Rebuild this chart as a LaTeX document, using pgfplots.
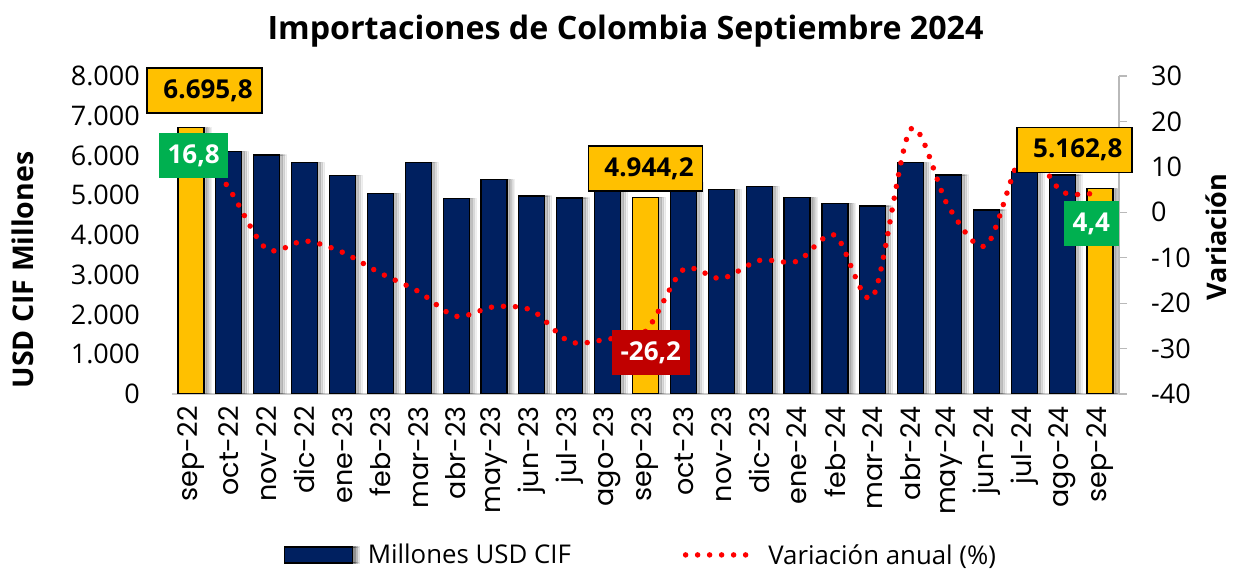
\documentclass[border=0pt]{standalone}
\usepackage{pgfplots}
\pgfplotsset{compat=1.18}
\usepackage{fontspec}
\setmainfont{Open Sans}
\newfontfamily\poppins{Poppins}
\usetikzlibrary{shadows}
\definecolor{navy}{HTML}{002060}
\definecolor{gold}{HTML}{FFC000}
\definecolor{vgreen}{HTML}{00B050}
\definecolor{vred}{HTML}{C00000}
\newcommand\fs[1]{\fontsize{#1}{#1}\selectfont}
\tikzset{
  goldbox/.style={fill=gold, draw=black, line width=1.5pt, font=\bfseries\fs{26}, minimum height=45pt, inner sep=0pt},
  colbox/.style={text=white, font=\bfseries\fs{26}, minimum height=45pt, inner sep=0pt},
  reddots/.style={color=red, line width=5.5pt, line cap=round, dash pattern=on 0pt off 12pt},
  barshadow/.style={
    general shadow={shadow xshift=7pt, shadow yshift=0pt, opacity=0.06, fill=black},
    general shadow={shadow xshift=5pt, shadow yshift=0pt, opacity=0.09, fill=black},
    general shadow={shadow xshift=3pt, shadow yshift=0pt, opacity=0.12, fill=black}},
}
\begin{document}
\begin{tikzpicture}[x=1pt,y=1pt]
\path[use as bounding box] (0,0) rectangle (1234,572);
\node[font=\bfseries\fs{32.2}] at (625.5,541) {Importaciones de Colombia Septiembre 2024};

\begin{axis}[
  at={(172pt,178pt)}, anchor=south west,
  scale only axis, width=947pt, height=318pt,
  xmin=-0.5, xmax=24.5, ymin=0, ymax=8000,
  axis x line*=bottom, axis y line*=left,
  x axis line style={draw=gray!40, line width=1.2pt},
  y axis line style={draw=none},
  xtick={0,...,24},
  xticklabels={sep-22,oct-22,nov-22,dic-22,ene-23,feb-23,mar-23,abr-23,may-23,jun-23,jul-23,ago-23,sep-23,oct-23,nov-23,dic-23,ene-24,feb-24,mar-24,abr-24,may-24,jun-24,jul-24,ago-24,sep-24},
  xticklabel style={yshift=-12pt, rotate=90, anchor=east, font=\poppins\fs{27}, inner sep=0pt},
  major tick length=0pt,
  ytick={0,1000,...,8000},
  yticklabels={0,1.000,2.000,3.000,4.000,5.000,6.000,7.000,8.000},
  yticklabel style={font=\fs{27}, anchor=east, inner sep=0pt, xshift=-32pt},
  ylabel={USD CIF Millones},
  ylabel style={font=\bfseries\fs{28.5}, at={(rel axis cs:-0.158,0.39)}, anchor=center},
  legend style={at={(rel axis cs:0.494,-0.506)}, anchor=center, draw=none, fill=none,
    legend columns=2, font=\fs{25.8}, nodes={inner sep=0pt},
    /tikz/every odd column/.append style={column sep=15pt},
    /tikz/every even column/.append style={column sep=112pt}},
]
\addplot[ybar, bar width=26pt, bar shift=0pt, fill=navy, draw=black, line width=1.2pt, barshadow,
  legend image code/.code={\draw[fill=navy, draw=black, line width=1.2pt, barshadow] (0pt,-8pt) rectangle (68pt,8pt);}]
coordinates {
(1,6096) (2,6013) (3,5820) (4,5501) (5,5040) (6,5829) (7,4914) (8,5392) (9,4981) (10,4931) (11,5270)
(13,5330) (14,5140) (15,5223) (16,4939) (17,4797) (18,4730) (19,5815) (20,5509) (21,4629) (22,5600) (23,5509)
};
\addlegendentry{Millones USD CIF}
\addplot[ybar, bar width=26pt, bar shift=0pt, fill=gold, draw=black, line width=1.2pt, barshadow, forget plot]
coordinates {(0,6695.8) (12,4944.2) (24,5162.8)};
\addlegendimage{legend image code/.code={\draw[reddots] (3pt,0pt) -- (68pt,0pt);}}
\addlegendentry{Variación anual (\%)}
\end{axis}

\begin{axis}[
  at={(172pt,178pt)}, anchor=south west,
  scale only axis, width=947pt, height=318pt,
  xmin=-0.5, xmax=24.5, ymin=-40, ymax=30,
  axis x line=none, axis y line*=right, clip=false,
  y axis line style={draw=gray!55, line width=1.2pt},
  ytick={-40,-30,...,30},
  yticklabels={-40,-30,-20,-10,0,10,20,30},
  tick align=outside, major tick length=8pt, tick style={draw=gray!55, line width=1.2pt},
  yticklabel style={font=\fs{27}, anchor=west, inner sep=0pt, xshift=24pt},
  ylabel={Variación},
  ylabel style={font=\bfseries\fs{27}, at={(rel axis cs:1.103,0.494)}, anchor=center},
]
\addplot[reddots, smooth, tension=0.5] coordinates {
(0,16.8) (1,5.3) (2,-8.1) (3,-6.3) (4,-8.8) (5,-13.4) (6,-17.4) (7,-22.9) (8,-20.8) (9,-21.6)
(10,-28.5) (11,-27.9) (12,-26.2) (13,-12.6) (14,-14.6) (15,-10.6) (16,-10.8) (17,-5.0) (18,-18.6)
(19,18.3) (20,1.2) (21,-7.3) (22,13.5) (23,4.5) (24,4.4)
};
\node[goldbox, minimum width=115pt] at (axis cs:0.36,26.81) {\hspace*{7pt}6.695,8};
\node[colbox, fill=vgreen, minimum width=69pt] at (axis cs:0.07,12.5) {16,8};
\node[goldbox, minimum width=114pt] at (axis cs:12.0,9.64) {\hspace*{7pt}4.944,2};
\node[colbox, fill=vred, minimum width=78pt] at (axis cs:12.14,-30.97) {-26,2};
\node[goldbox, minimum width=115pt] at (axis cs:23.32,13.71) {\hspace*{7pt}5.162,8};
\node[colbox, fill=vgreen, minimum width=55pt] at (axis cs:23.77,-2.58) {4,4};
\end{axis}
\end{tikzpicture}
\end{document}
